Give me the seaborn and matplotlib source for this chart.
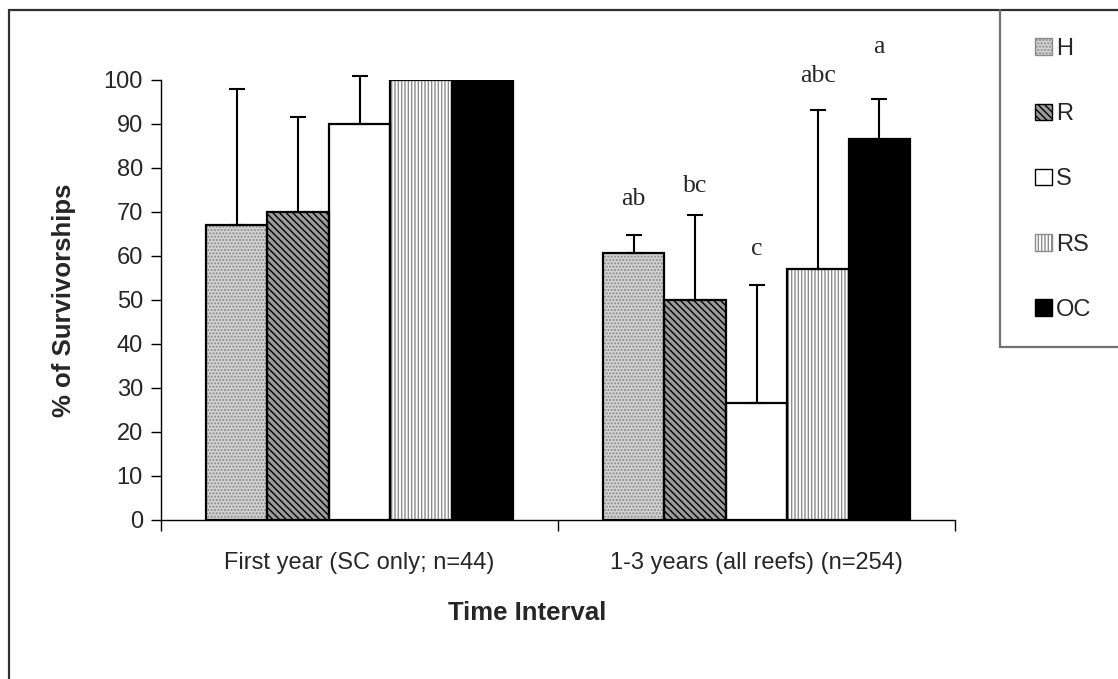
import numpy as np
import pandas as pd
import matplotlib
matplotlib.use("Agg")
import matplotlib.pyplot as plt
from matplotlib.patches import Patch, Rectangle
from matplotlib.lines import Line2D
import seaborn as sns

# --- datos ---
intervals = ["First year (SC only; n=44)", "1-3 years (all reefs) (n=254)"]
habitats = ["H", "R", "S", "RS", "OC"]
first_year = [67, 70, 90, 100, 100]
first_year_err = [31, 21.6, 11, 0, 0]
later_years = [60.7, 50, 26.6, 57, 86.6]
later_years_err = [4.1, 19.3, 26.8, 36.2, 9.1]
later_letters = ["ab", "bc", "c", "abc", "a"]
later_letter_y = [73, 76, 61.5, 101, 107.5]

# estilo de cada hábitat: (relleno, trama, color de trama)
styles = {
    "H": ("#d2d2d2", ".....", "#8a8a8a"),
    "R": ("#9c9c9c", "\\\\\\\\\\", "#000000"),
    "S": ("#ffffff", "", "#000000"),
    "RS": ("#ffffff", "|||||", "#8c8c8c"),
    "OC": ("#000000", "", "#000000"),
}

df = pd.DataFrame({
    "interval": np.repeat(intervals, len(habitats)),
    "habitat": habitats * len(intervals),
    "value": first_year + later_years,
    "err": first_year_err + later_years_err,
})

sns.set_theme(style="white")
plt.rcParams["font.family"] = ["Liberation Sans", "DejaVu Sans"]

W, H = 1118, 679
fig = plt.figure(figsize=(W / 100, H / 100), dpi=100)
ax = fig.add_axes([161 / W, 1 - 520 / H, (955 - 161) / W, (520 - 80) / H])

sns.barplot(
    data=df, x="interval", y="value", hue="habitat",
    order=intervals, hue_order=habitats,
    palette={h: styles[h][0] for h in habitats},
    width=0.773, errorbar=None, legend=False, saturation=1, ax=ax,
)

for cont, hab in zip(ax.containers, habitats):
    face, hatch, hcol = styles[hab]
    errs = df[df.habitat == hab].set_index("interval").loc[intervals, "err"].to_numpy()
    for bar, e in zip(cont, errs):
        bar.set_hatch(hatch)
        bar.set_edgecolor(hcol)
        bar.set_linewidth(0)
        ax.add_patch(Rectangle(bar.get_xy(), bar.get_width(), bar.get_height(),
                               fill=False, edgecolor="black", linewidth=1.6, zorder=3))
        if e > 0:
            xc = bar.get_x() + bar.get_width() / 2
            eb = ax.errorbar(xc, bar.get_height(), yerr=[[0], [e]], fmt="none",
                             ecolor="black", elinewidth=1.5, capsize=6, capthick=1.5,
                             zorder=2)
            for art in list(eb.lines[1]) + list(eb.lines[2]):
                art.set_clip_on(False)

# letras de significación (segundo intervalo)
for cont, lab, ly in zip(ax.containers, later_letters, later_letter_y):
    bar = cont[1]
    ax.text(bar.get_x() + bar.get_width() / 2, ly, lab, ha="center", va="center",
            fontsize=18.5, family=["Liberation Serif", "DejaVu Serif"], clip_on=False)

ax.set_xlim(-0.5, 1.5)
ax.set_ylim(0, 100)
ax.set_yticks(np.arange(0, 101, 10))
ax.set_xticks([-0.5, 0.5, 1.5], minor=True)
ax.tick_params(axis="y", which="major", direction="out", length=7, width=1,
               color="black", labelsize=17, pad=6, left=True)
ax.tick_params(axis="x", which="major", length=0, labelsize=17, pad=23)
ax.tick_params(axis="x", which="minor", direction="out", length=8, width=1,
               color="black", bottom=True)
for s in ["top", "right"]:
    ax.spines[s].set_visible(False)
for s in ["left", "bottom"]:
    ax.spines[s].set_color("black")
    ax.spines[s].set_linewidth(1)

ax.set_ylabel("% of Survivorships", fontsize=18.5, fontweight="bold")
ax.yaxis.set_label_coords(-0.107, 0.5)
ax.set_xlabel("Time Interval", fontsize=18.5, fontweight="bold")
ax.xaxis.set_label_coords(0.461, -0.183)

# leyenda
handles = []
for hab in habitats:
    face, hatch, hcol = styles[hab]
    edge = hcol if hab in ("H", "RS") else "black"
    handles.append(Patch(facecolor=face, hatch=hatch, edgecolor=edge, linewidth=1))
fig.legend(handles, habitats, loc="upper left",
           bbox_to_anchor=(1035 / W, 1 - 38 / H), frameon=False,
           fontsize=17, handlelength=0.7, handleheight=0.7, handletextpad=0.2,
           labelspacing=1.83, borderaxespad=0, borderpad=0)

# marco exterior y caja de la leyenda
fig.add_artist(Line2D([9 / W, 9 / W], [0, 1 - 10 / H], color="#303030", lw=1.6))
fig.add_artist(Line2D([9 / W, 1], [1 - 10 / H, 1 - 10 / H], color="#303030", lw=1.6))
fig.add_artist(Line2D([1000 / W, 1000 / W], [1 - 10 / H, 1 - 347 / H], color="#707070", lw=1.6))
fig.add_artist(Line2D([1000 / W, 1], [1 - 347 / H, 1 - 347 / H], color="#707070", lw=1.6))

fig.savefig("out.png", dpi=100, facecolor="white")
